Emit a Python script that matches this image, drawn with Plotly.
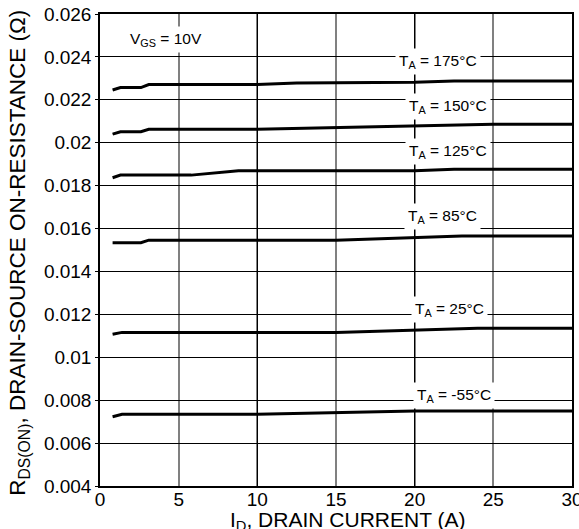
import plotly.graph_objects as go

# ---- data ----
i_175 = [0.8, 1.3, 2.6, 3.1, 10.0, 12.5, 20.0, 22.5, 30.0]
r_175 = [0.02246, 0.02257, 0.02257, 0.02271, 0.02271, 0.02278, 0.02282, 0.02288, 0.02288]

i_150 = [0.8, 1.3, 2.6, 3.1, 10.0, 15.0, 20.0, 25.0, 30.0]
r_150 = [0.02040, 0.02051, 0.02051, 0.02063, 0.02063, 0.02070, 0.02080, 0.02086, 0.02086]

i_125 = [0.8, 1.3, 5.8, 8.8, 20.0, 22.5, 30.0]
r_125 = [0.01837, 0.01849, 0.01849, 0.01869, 0.01869, 0.01876, 0.01876]

i_85 = [0.8, 2.6, 3.1, 15.0, 23.0, 30.0]
r_85 = [0.01534, 0.01534, 0.01546, 0.01546, 0.01565, 0.01565]

i_25 = [0.8, 1.4, 15.0, 24.0, 30.0]
r_25 = [0.01107, 0.01116, 0.01116, 0.01135, 0.01135]

i_m55 = [0.8, 1.4, 10.0, 15.0, 20.0, 30.0]
r_m55 = [0.00723, 0.00734, 0.00734, 0.00742, 0.00750, 0.00750]

series = [
    (i_175, r_175), (i_150, r_150), (i_125, r_125),
    (i_85, r_85), (i_25, r_25), (i_m55, r_m55),
]

label_texts = [
    "T<sub>A</sub> = 175°C", "T<sub>A</sub> = 150°C", "T<sub>A</sub> = 125°C",
    "T<sub>A</sub> = 85°C", "T<sub>A</sub> = 25°C", "T<sub>A</sub> = -55°C",
]
label_x = [21.5, 22.1, 22.1, 21.8, 22.2, 22.5]
label_y = [0.02380, 0.02170, 0.01960, 0.01657, 0.01224, 0.00823]

vgs_text = "V<sub>GS</sub> = 10V"
vgs_x, vgs_y = 4.2, 0.02480

x_ticks = [0, 5, 10, 15, 20, 25, 30]
x_tick_text = ["0", "5", "10", "15", "20", "25", "30"]
y_ticks = [0.004, 0.006, 0.008, 0.010, 0.012, 0.014, 0.016, 0.018, 0.020,
           0.022, 0.024, 0.026]
y_tick_text = ["0.004", "0.006", "0.008", "0.01", "0.012", "0.014", "0.016",
               "0.018", "0.02", "0.022", "0.024", "0.026"]

x_title = "I<sub>D</sub>, DRAIN CURRENT (A)"
y_title = "R<sub>DS(ON)</sub>, DRAIN-SOURCE ON-RESISTANCE (Ω)"

FONT = "Liberation Sans, Arial, Helvetica, sans-serif"

fig = go.Figure()
for xs, ys in series:
    fig.add_trace(go.Scatter(x=xs, y=ys, mode="lines",
                             line=dict(color="black", width=3),
                             showlegend=False, hoverinfo="skip"))

# invisible trace on second x axis so the overlay grid (10, 20) is drawn black
fig.add_trace(go.Scatter(x=[0, 30], y=[0.004, 0.004], xaxis="x2", mode="lines",
                         line=dict(width=0), showlegend=False, hoverinfo="skip"))

annotations = []
for t, lx, ly in zip(label_texts, label_x, label_y):
    annotations.append(dict(x=lx, y=ly, xref="x", yref="y", text=t,
                            showarrow=False, bgcolor="white", borderpad=3,
                            font=dict(family=FONT, size=15.5, color="black"),
                            xanchor="center", yanchor="middle"))
annotations.append(dict(x=vgs_x, y=vgs_y, xref="x", yref="y", text=vgs_text,
                        showarrow=False, bgcolor="white", borderpad=3,
                        font=dict(family=FONT, size=15.5, color="black"),
                        xanchor="center", yanchor="middle"))
annotations.append(dict(x=0.525, y=0, xref="paper", yref="paper", text=x_title,
                        showarrow=False, yanchor="top", yshift=-20,
                        font=dict(family=FONT, size=21, color="black")))
annotations.append(dict(x=0, y=0.494, xref="paper", yref="paper", text=y_title,
                        showarrow=False, textangle=-90, xanchor="center",
                        yanchor="middle", xshift=-81,
                        font=dict(family=FONT, size=22.5, color="black")))

fig.update_layout(
    width=579, height=529,
    margin=dict(l=100, r=7, t=14, b=43, autoexpand=False),
    paper_bgcolor="white", plot_bgcolor="white",
    font=dict(family=FONT, size=19, color="black"),
    xaxis=dict(range=[0, 30], tickvals=x_ticks, ticktext=x_tick_text,
               showgrid=True, gridcolor="#808080", gridwidth=1.5,
               showline=True, linecolor="black", linewidth=1.5, mirror=True,
               ticks="", zeroline=False, tickfont=dict(size=19),
               ticklabeloverflow="allow", ticklabelstandoff=-5,
               automargin=False),
    xaxis2=dict(range=[0, 30], overlaying="x", dtick=10, tick0=0,
                showgrid=True, gridcolor="black", gridwidth=1,
                showticklabels=False, ticks="", zeroline=False,
                showline=False, side="bottom", automargin=False),
    yaxis=dict(range=[0.004, 0.026], tickvals=y_ticks, ticktext=y_tick_text,
               showgrid=True, gridcolor="black", gridwidth=1,
               showline=True, linecolor="black", linewidth=1.5, mirror=True,
               ticks="outside", ticklen=3, tickcolor="black",
               zeroline=False, tickfont=dict(size=19), automargin=False),
    annotations=annotations,
)

fig.write_html("out.html")
